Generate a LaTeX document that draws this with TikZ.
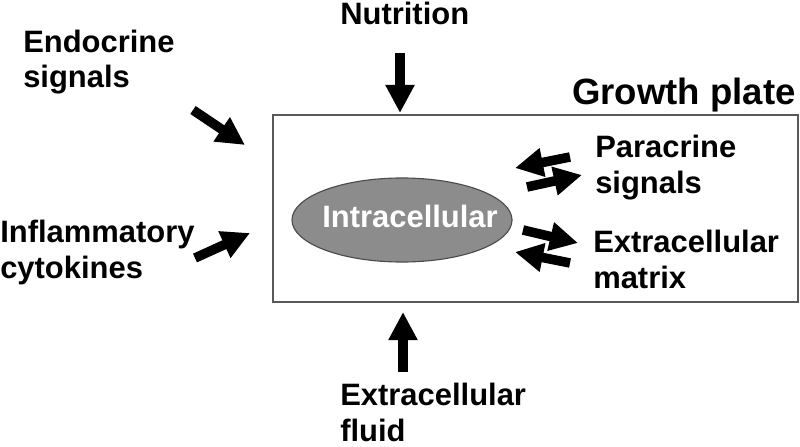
\documentclass[tikz,border=0pt]{standalone}
\usepackage{fontspec}
\setmainfont{Liberation Sans}
\usepackage{tikz}
\usetikzlibrary{arrows.meta,positioning,shapes.geometric}

\tikzset{
   txt/.style={anchor=base west, inner sep=0pt, align=left, font=\fontsize{22}{25}\selectfont\bfseries},
   bigarrow/.style={line width=6.8pt, -{Triangle[length=20pt, width=19.5pt]}},
}

\begin{document}
\begin{tikzpicture}[x=0.025cm, y=-0.025cm]
   \useasboundingbox (0,0) rectangle (800,446);
   % growth plate box and cell
   \draw[line width=1.4pt, draw=black!65] (273,115) rectangle (798,302);
   \node[draw=black!70, line width=0.8pt, fill=black!45, ellipse, minimum width=5.5cm, minimum height=2.1cm, inner sep=0pt] (cell) at (402,220) {};
   \node[text=white, font=\fontsize{22}{25}\selectfont\bfseries] (intra) at (410,216) {Intracellular};
   \node[txt, font=\fontsize{26}{30}\selectfont\bfseries] (plate) at (572,105) {Growth plate};

   % labels (base = last line)
   \node[txt] (nutrition) at (340,25) {Nutrition};
   \node[txt] (endocrine) at (23,88) {Endocrine\\signals};
   \node[txt] (inflammatory) at (0,278) {Inflammatory\\cytokines};
   \node[txt] (paracrine) at (595,193) {Paracrine\\signals};
   \node[txt] (matrix) at (593,288) {Extracellular\\matrix};
   \node[txt] (fluid) at (340,441) {Extracellular\\fluid};

   % arrow ends
   \coordinate (n1) at (400,53);  \coordinate (n2) at (400,113);
   \coordinate (e1) at (193,110); \coordinate (e2) at (245,145);
   \coordinate (i1) at (195,258); \coordinate (i2) at (250,233);
   \coordinate (f1) at (403,372); \coordinate (f2) at (403,312);
   \coordinate (p1) at (570,157); \coordinate (p2) at (515,168);
   \coordinate (p3) at (527,187); \coordinate (p4) at (582,175);
   \coordinate (m1) at (523,230); \coordinate (m2) at (578,243);
   \coordinate (m3) at (570,263); \coordinate (m4) at (515,252);

   \foreach \a/\b in {n1/n2, e1/e2, i1/i2, f1/f2, p1/p2, p3/p4, m1/m2, m3/m4}
      \draw[bigarrow] (\a) -- (\b);
\end{tikzpicture}
\end{document}
